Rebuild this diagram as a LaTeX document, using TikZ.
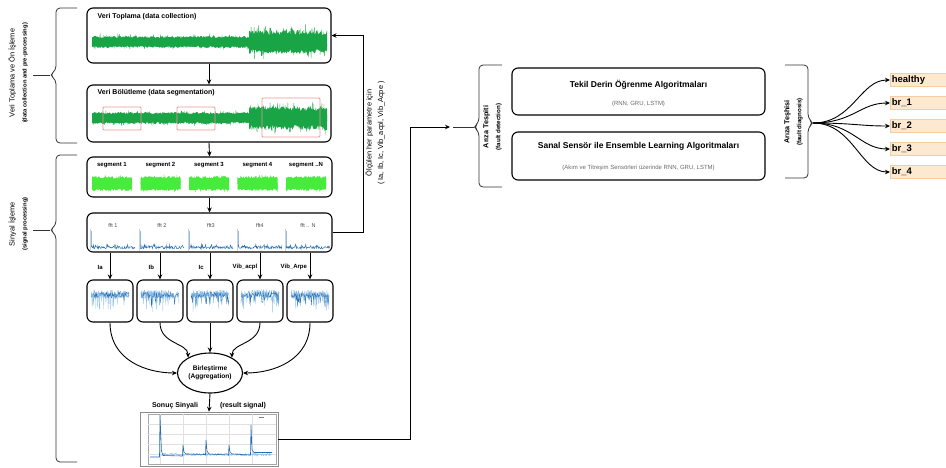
\documentclass[tikz,border=0pt]{standalone}
\usepackage{fontspec}
\setmainfont{Liberation Sans}
\usetikzlibrary{arrows.meta,shapes.geometric,calc}
\definecolor{wgreen}{RGB}{25,165,70}
\definecolor{limeg}{RGB}{70,235,60}
\definecolor{fftblue}{RGB}{31,110,180}
\definecolor{lblue}{RGB}{140,190,232}
\definecolor{dblue}{RGB}{40,110,175}
\definecolor{segred}{RGB}{232,150,150}
\definecolor{peach}{RGB}{253,233,208}
\definecolor{peachline}{RGB}{245,205,160}
\definecolor{subgray}{RGB}{105,105,105}
\begin{document}
\begin{tikzpicture}[x=1pt,y=-1pt,
  box/.style={draw, rounded corners=6pt, line width=1.1pt, inner sep=0pt},
  arr/.style={-{Stealth[length=5pt,width=4.5pt]}, line width=0.9pt},
  brc/.style={draw=black!80, line width=0.8pt, rounded corners=4pt},
  wave/.style={wgreen, line width=0.35pt},
  segw/.style={limeg, line width=0.35pt},
  tb7/.style={font=\fontsize{7}{8.4}\selectfont\bfseries, inner sep=0.5pt},
  tb6/.style={font=\fontsize{6}{7.2}\selectfont\bfseries, inner sep=0.5pt},
  lab/.style={draw=peachline, fill=peach, line width=0.6pt, text width=62pt, align=left,
     minimum height=13pt, inner sep=1.5pt, anchor=west, font=\fontsize{9.5}{10}\selectfont\bfseries}
]
\useasboundingbox (0,0) rectangle (946,467);
\pgfmathsetseed{7}

% ---------- left braces ----------
\draw[brc] (77,8) -- (56,8) -- (56,70) -- (50,75) -- (56,80) -- (56,143) -- (77,143);
\coordinate (bt1) at (50,75);
\draw[line width=0.8pt, black!80] (33,75) -- (bt1);
\node[rotate=90, align=center, inner sep=0] (lt1) at (18,73)
  {{\fontsize{7.4}{9.5}\selectfont Veri Toplama ve Ön İşleme}\\{\fontsize{5.8}{7}\selectfont\bfseries (data collection and pre-processing)}};
\draw[brc] (77,155) -- (56,155) -- (56,225) -- (50,230) -- (56,235) -- (56,462) -- (77,462);
\coordinate (bt2) at (50,230);
\draw[line width=0.8pt, black!80] (33,230) -- (bt2);
\node[rotate=90, align=center, inner sep=0] (lt2) at (18,224)
  {{\fontsize{7.4}{9.5}\selectfont Sinyal İşleme}\\{\fontsize{5.8}{7}\selectfont\bfseries (signal processing)}};

% ---------- main boxes ----------
\node[box, minimum width=244, minimum height=55] (b1) at (209,35.5) {};
\node[box, minimum width=244, minimum height=57] (b2) at (209,113.5) {};
\node[box, minimum width=245, minimum height=40] (b3) at (209.5,177) {};
\node[box, minimum width=245, minimum height=39] (b4) at (209.5,232.5) {};
\node[tb7, anchor=west] (b1t) at (97,17) {Veri Toplama (data collection)};
\node[tb7, anchor=west] (b2t) at (97,93) {Veri Bölütleme (data segmentation)};

% waveform 1
\fill[wgreen] plot[domain=92:249, samples=150] (\x,{42-4-2*rnd}) -- plot[domain=249:92, samples=150] (\x,{42+4+2*rnd}) -- cycle;
\draw[wave] plot[domain=92:249, samples=420] (\x,{42+(5+3*rnd)*rand});
\fill[wgreen] plot[domain=249:327, samples=80] (\x,{42-7-5*rnd}) -- plot[domain=327:249, samples=80] (\x,{42+7+5*rnd}) -- cycle;
\draw[wave] plot[domain=249:327, samples=260] (\x,{42+(10+8*rnd)*rand});
% waveform 2
\fill[wgreen] plot[domain=92:249, samples=150] (\x,{118-4-2*rnd}) -- plot[domain=249:92, samples=150] (\x,{118+4+2*rnd}) -- cycle;
\draw[wave] plot[domain=92:249, samples=420] (\x,{118+(5+3*rnd)*rand});
\fill[wgreen] plot[domain=249:327, samples=80] (\x,{118-7-5*rnd}) -- plot[domain=327:249, samples=80] (\x,{118+7+5*rnd}) -- cycle;
\draw[wave] plot[domain=249:327, samples=260] (\x,{118+(9+8*rnd)*rand});
\draw[segred, line width=0.9pt, rounded corners=1pt] (103,107) rectangle (141,130);
\draw[segred, line width=0.9pt, rounded corners=1pt] (177,107) rectangle (215,130);
\draw[segred, line width=0.9pt, rounded corners=1pt] (262,98) rectangle (320,137);

% segments
\foreach \c/\t [count=\i] in {112/segment 1, 160.5/segment 2, 209/segment 3, 257.5/segment 4, 306/segment ..N}{
  \node[tb6] (sg\i) at (\c,165) {\t};
  \pgfmathsetmacro\sa{\c-20}\pgfmathsetmacro\sb{\c+20}
  \fill[limeg] plot[domain=\sa:\sb, samples=40] (\x,{183.5-5-2.5*rnd}) -- plot[domain=\sb:\sa, samples=40] (\x,{183.5+5+2.5*rnd}) -- cycle;
  \draw[segw] plot[domain=\sa:\sb, samples=140] (\x,{183.5+(6+3*rnd)*rand});
}

% fft plots
\foreach \px/\t [count=\i] in {90/fft 1, 139/fft 2, 188/fft3, 237/fft4, 285/fft .. N}{
  \pgfmathsetmacro\fa{\px+1}\pgfmathsetmacro\fb{\px+45}\pgfmathsetmacro\fc{\px+23}
  \node[font=\fontsize{5.5}{6}\selectfont, text=black!70, inner sep=0.5pt] (ff\i) at (\fc,226) {\t};
  \draw[black!18, line width=0.4pt] (\px,229) -- (\px,251);
  \draw[lblue, line width=0.5pt] (\fa,247) -- (\fa,231);
  \draw[fftblue, line width=0.4pt] plot[domain=\fa:\fb, samples=90] (\x,{247.5+1.3*rand-ifthenelse(rnd>0.85,2,0)});
}

% small signal boxes
\foreach \c [count=\i] in {110,160,210,260,310}{
  \node[box, minimum width=46, minimum height=42] (s\i) at (\c,301) {};
  \pgfmathsetmacro\sa{\c-19}\pgfmathsetmacro\sb{\c+19}
  \draw[lblue, line width=0.35pt] plot[domain=\sa:\sb, samples=150] (\x,{294+4*rand+ifthenelse(rnd>0.75,15*rnd,0)});
  \draw[dblue, line width=0.3pt] plot[domain=\sa:\sb, samples=70] (\x,{295+3*rand+ifthenelse(rnd>0.85,10*rnd,0)});
  \draw[arr] (s\i.north |- b4.south) -- (s\i.north);
}
\node[tb6, anchor=west] (la) at (97,267) {Ia};
\node[tb6, anchor=west] (lb) at (148,267) {Ib};
\node[tb6, anchor=west] (lc) at (198,267) {Ic};
\node[tb6, anchor=west] (ld) at (232,267) {Vib\_acpl};
\node[tb6, anchor=west] (le) at (280,267) {Vib\_Arpe};

% vertical arrows
\draw[arr] (b1.south) -- (b2.north);
\draw[arr] (b2.south) -- (b3.north);
\draw[arr] (b3.south) -- (b4.north);

% aggregation
\node[draw, ellipse, line width=1.1pt, minimum width=65, minimum height=40, inner sep=0,
      align=center, font=\fontsize{6.6}{8}\selectfont\bfseries] (agg) at (210,373) {Birleştirme\\(Aggregation)};
\draw[arr] (s1.south) .. controls +(0,38) and +(-30,0) .. (agg.west);
\draw[arr] (s2.south) .. controls +(0,22) and +(0,-15) .. (agg.145);
\draw[arr] (s3.south) -- (agg.north);
\draw[arr] (s4.south) .. controls +(0,22) and +(0,-15) .. (agg.35);
\draw[arr] (s5.south) .. controls +(0,38) and +(30,0) .. (agg.east);

% result signal
\node[draw=black!45, line width=0.6pt, fill=white, minimum width=138, minimum height=54, inner sep=0] (result) at (209,439) {};
\draw[black!35, line width=0.3pt] (148,414) rectangle (276,464);
\foreach \gx in {160,183,206,229,252} \draw[black!12, line width=0.3pt] (\gx,414) -- (\gx,464);
\foreach \gy in {424,434,444,454} \draw[black!12, line width=0.3pt] (148,\gy) -- (276,\gy);
\draw[black!50, line width=0.4pt] (259,417.5) -- (264,417.5);
\draw[lblue, line width=0.4pt] plot[domain=161:272, samples=220] (\x,{454.5+1.3*rand});
\draw[dblue, line width=0.6pt] (150,457) -- (159.5,457) -- (160,415) -- (161.5,451) -- (163,455.5) -- (182.5,456)
  -- (183,445) -- (184,452) -- (186,454) -- (205.5,454.5) -- (206,440) -- (207,451) -- (209,454) -- (228.5,455)
  -- (229,445) -- (230,452) -- (232,454) -- (250.5,455) -- (251,425) -- (252,450) -- (254,452.5) -- (272,452.5);
\draw[arr] (agg.south) -- (result.north);
\node[tb7] (rs1) at (175,406) {Sonuç Sinyali};
\node[tb7] (rs2) at (243,406) {(result signal)};

% feedback loop
\coordinate (fb) at (363,35.5);
\draw[arr] (b4.east) -| (fb) -- (b1.east);
\node[rotate=90, align=center, inner sep=0, font=\fontsize{7.4}{11.5}\selectfont] (fbt) at (375,133)
  {Ölçülen her parametre için\\( Ia, Ib, Ic, Vib\_acpl, Vib\_Acpe )};

% to fault detection
\coordinate (bend) at (410,127);
\coordinate (dtin) at (450,127);
\draw[arr] (result.east) -| (bend) -- (dtin);
\coordinate (dtst) at (453,127);
\coordinate (dttip) at (474,127);
\draw[line width=0.8pt, black!80] (dtst) -- (dttip);
\draw[brc] (502,65) -- (479,65) -- (479,122) -- (474,127) -- (479,132) -- (479,187) -- (502,187);
\node[rotate=90, align=center, inner sep=0] (dtt) at (492.5,127)
  {{\fontsize{7.2}{9}\selectfont\bfseries Arıza Tespiti}\\{\fontsize{6.2}{7}\selectfont\bfseries (fault detection)}};

% algorithm boxes
\node[box, minimum width=253, minimum height=47] (t1) at (638.5,91.5) {};
\node[font=\fontsize{8.5}{10}\selectfont\bfseries, inner sep=0] (t1a) at (638.5,85) {Tekil Derin Öğrenme Algoritmaları};
\node[font=\fontsize{6}{7}\selectfont, text=subgray, inner sep=0] (t1b) at (638.5,103.5) {(RNN, GRU, LSTM)};
\node[box, minimum width=253, minimum height=48] (t2) at (638.5,156) {};
\node[font=\fontsize{8.5}{10}\selectfont\bfseries, inner sep=0] (t2a) at (638.5,146) {Sanal Sensör ile Ensemble Learning Algoritmaları};
\node[font=\fontsize{6}{7}\selectfont, text=subgray, inner sep=0] (t2b) at (638.5,167.5) {(Akım ve Titreşim Sensörleri üzerinde RNN, GRU, LSTM)};

% fault diagnosis brace
\draw[brc] (785,65) -- (808,65) -- (808,118) -- (813,123) -- (808,128) -- (808,178) -- (785,178);
\node[rotate=90, align=center, inner sep=0] (dgt) at (793.5,122)
  {{\fontsize{7.2}{9}\selectfont\bfseries Arıza Teşhisi}\\{\fontsize{6.2}{7}\selectfont\bfseries (fault diagnosis)}};
\coordinate (dgtip) at (813,123);

% labels
\node[lab] (l1) at (890,80) {healthy};
\node[lab] (l2) at (890,103) {br\_1};
\node[lab] (l3) at (890,126) {br\_2};
\node[lab] (l4) at (890,149) {br\_3};
\node[lab] (l5) at (890,172) {br\_4};
\foreach \i in {1,...,5}
  \draw[arr] (dgtip) .. controls +(40,0) and +(-30,0) .. (l\i.west);
\end{tikzpicture}
\end{document}
